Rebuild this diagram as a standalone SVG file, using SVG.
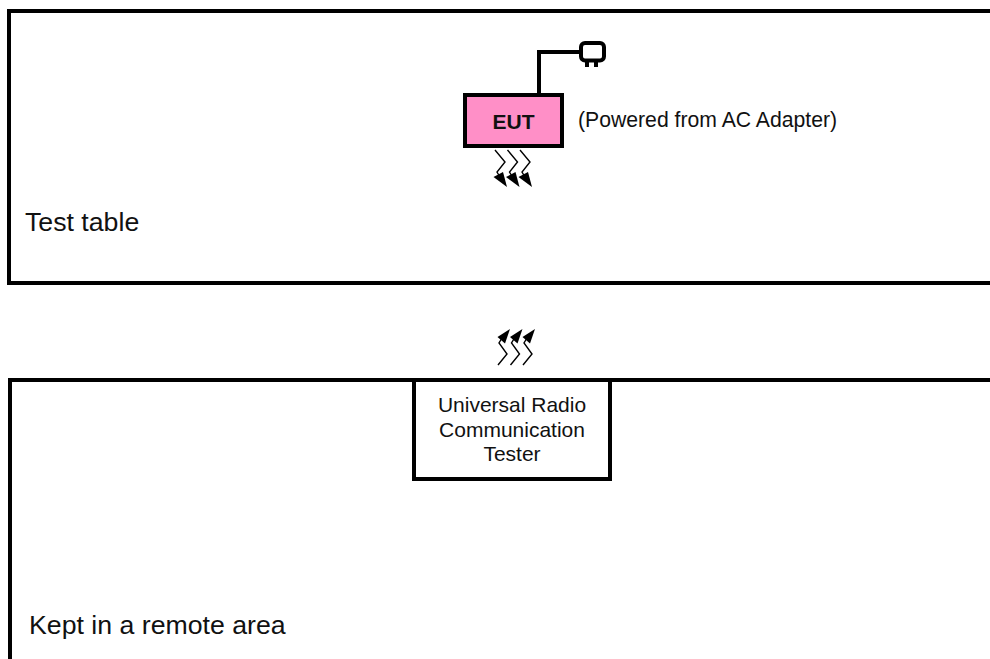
<svg xmlns="http://www.w3.org/2000/svg" width="990" height="659" viewBox="0 0 990 659">
<defs>
<g id="boltDown"><path class="bolt" d="M0 0L10 12L2 22L5 27"/><polygon points="12,37 -1.500,27 8,22"/></g>
<g id="boltUp"><path class="bolt" d="M0 0L9 -11L1 -22L4 -27"/><polygon points="12,-36 -0.500,-28 7,-21.500"/></g>
</defs>
<style>
text{font-family:"Liberation Sans",Arial,sans-serif;fill:#111}
.area,.box,.cable,.plug{fill:none;stroke:#000;stroke-width:4}
.bolt{fill:none;stroke:#000;stroke-width:1.4}
.t{font-size:21px;text-anchor:middle}
.big{font-size:26.700px}
</style>
<rect width="990" height="659" fill="#fff"/>
<g id="test-table">
<path class="area" d="M992 11H9V283H992"/>
<text class="big" x="25" y="231">Test table</text>
</g>
<g id="remote-area">
<path class="area" d="M992 380H10V661"/>
<text class="big" x="29" y="634">Kept in a remote area</text>
</g>
<g id="connectors">
<path class="cable" d="M539 94V52H581"/>
<use href="#boltDown" x="495" y="150"/>
<use href="#boltDown" x="507.500" y="150"/>
<use href="#boltDown" x="520" y="150"/>
<use href="#boltUp" x="498" y="365"/>
<use href="#boltUp" x="510.500" y="365"/>
<use href="#boltUp" x="523" y="365"/>
</g>
<g id="plug">
<rect class="plug" x="581" y="43" width="23" height="17.500" rx="4"/>
<rect x="585" y="62" width="4" height="5"/>
<rect x="594" y="62" width="4" height="5"/>
</g>
<g id="eut">
<rect class="box" x="465" y="95" width="97" height="51" style="fill:#ff8fc7"/>
<text x="513.500" y="129" font-size="21" font-weight="bold" text-anchor="middle">EUT</text>
</g>
<text x="578" y="127" font-size="21.200">(Powered from AC Adapter)</text>
<g id="tester">
<rect class="box" x="414" y="380" width="196" height="99" style="fill:#fff"/>
<text class="t" x="512" y="412">Universal Radio</text>
<text class="t" x="512" y="437">Communication</text>
<text class="t" x="512" y="461">Tester</text>
</g>
</svg>
